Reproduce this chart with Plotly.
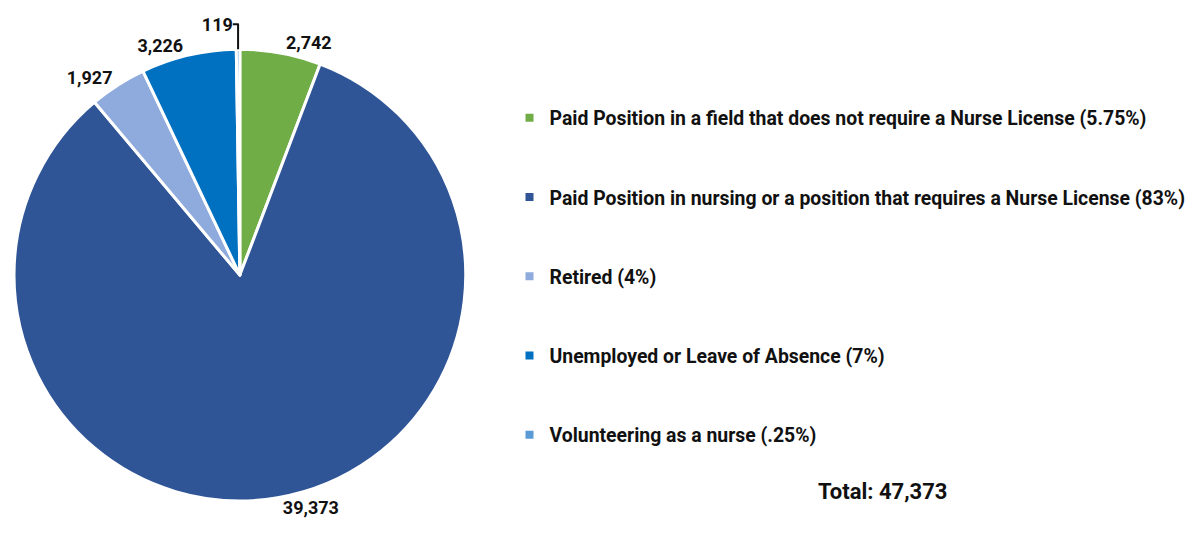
import plotly.graph_objects as go

categories = [
    "Paid Position in a field that does not require a Nurse License (5.75%)",
    "Paid Position in nursing or a position that requires a Nurse License (83%)",
    "Retired (4%)",
    "Unemployed or Leave of Absence (7%)",
    "Volunteering as a nurse (.25%)",
]
values = [2742, 39373, 1927, 3226, 119]
colors = ["#70AD47", "#2F5597", "#8FAADC", "#0070C0", "#5B9BD5"]
total_text = "Total: 47,373"

FONT = "Roboto"
fig = go.Figure()
fig.add_trace(go.Pie(
    labels=categories,
    values=values,
    sort=False,
    direction="clockwise",
    rotation=0,
    marker=dict(colors=colors, line=dict(color="white", width=3)),
    textposition="outside",
    texttemplate="%{value:,}",
    textfont=dict(family=FONT, size=18, color="#111111", weight="bold"),
    showlegend=False,
    domain=dict(x=[0, 454 / 1196], y=[44 / 537, 504 / 537]),
    hoverinfo="label+value",
))

# legend entries built from the same categories
for i, (name, col) in enumerate(zip(categories, colors)):
    fig.add_trace(go.Scatter(
        x=[None], y=[None], mode="markers", name=name,
        marker=dict(symbol="square", size=8, color=col),
        legendgroup=f"g{i}", showlegend=True, hoverinfo="skip",
    ))

fig.update_layout(
    width=1196, height=537,
    margin=dict(l=0, r=0, t=0, b=0),
    paper_bgcolor="white", plot_bgcolor="white",
    xaxis=dict(visible=False), yaxis=dict(visible=False),
    showlegend=True,
    legend=dict(
        x=498 / 1196, y=1 - 84 / 537, xanchor="left", yanchor="top",
        font=dict(family=FONT, size=19.4, color="#111111", weight="bold"),
        tracegroupgap=51, itemwidth=30, traceorder="grouped",
        bgcolor="rgba(0,0,0,0)",
    ),
    annotations=[dict(
        text=total_text, x=873 / 1196, y=1 - 483 / 537, xref="paper", yref="paper",
        xanchor="center", yanchor="middle",
        showarrow=False, font=dict(family=FONT, size=22, color="#111111", weight="bold"),
    )],
)

fig.write_html("out.html")
